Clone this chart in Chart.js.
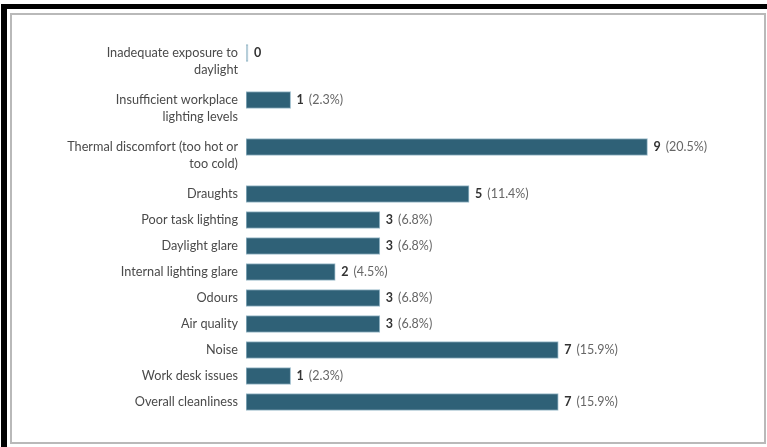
<!DOCTYPE html>
<html>
<head>
<meta charset="utf-8">
<script src="https://cdn.jsdelivr.net/npm/chart.js@4/dist/chart.umd.min.js"></script>
<style>
  html, body { margin: 0; padding: 0; background: #fff; }
  body { width: 767px; height: 447px; position: relative; overflow: hidden; }
  .edge-top { position: absolute; left: 1px; top: 4px; width: 766px; height: 5px; background: #000; }
  .edge-left { position: absolute; left: 1px; top: 4px; width: 6px; height: 443px; background: #000; }
  .frame { position: absolute; left: 10px; top: 13px; width: 756px; height: 431px; box-sizing: border-box; border: 2px solid #b9b9b9; }
  #chart { position: absolute; left: 0; top: 0; }
</style>
</head>
<body>
<div class="edge-top"></div>
<div class="edge-left"></div>
<div class="frame"></div>
<canvas id="chart" width="767" height="447"></canvas>
<script>
// survey answers: number of respondents per complaint
const categories = [
  ['Inadequate exposure to', 'daylight'],
  ['Insufficient workplace', 'lighting levels'],
  ['Thermal discomfort (too hot or', 'too cold)'],
  ['Draughts'],
  ['Poor task lighting'],
  ['Daylight glare'],
  ['Internal lighting glare'],
  ['Odours'],
  ['Air quality'],
  ['Noise'],
  ['Work desk issues'],
  ['Overall cleanliness']
];
const counts = [0, 1, 9, 5, 3, 3, 2, 3, 3, 7, 1, 7];
const percents = ['', '2.3%', '20.5%', '11.4%', '6.8%', '6.8%', '4.5%', '6.8%', '6.8%', '15.9%', '2.3%', '15.9%'];

// rows with a wrapped label get a taller slot
const SLOT = { 1: 26, 2: 47 };
const rowPos = [];
categories.forEach((lines, i) => {
  rowPos.push(i === 0 ? 0 : rowPos[i - 1] + SLOT[categories[i - 1].length]);
});

const BAR = '#2f6177';
const FONT = 'Lato, "Noto Sans", sans-serif';

const labelsPlugin = {
  id: 'rowLabels',
  afterDatasetsDraw(chart) {
    const ctx = chart.ctx;
    const meta = chart.getDatasetMeta(0);
    ctx.save();
    ctx.textBaseline = 'middle';
    meta.data.forEach((bar, i) => {
      // category text, right aligned before the bars
      ctx.font = '12.7px ' + FONT;
      ctx.fillStyle = '#4a4a4a';
      ctx.textAlign = 'right';
      categories[i].forEach((line, k) => {
        ctx.fillText(line, 238, bar.y + k * 17);
      });
      // value: bold count then the share in brackets
      ctx.textAlign = 'left';
      let x = bar.x + 6;
      ctx.font = 'bold 12.5px ' + FONT;
      ctx.fillStyle = '#333';
      ctx.fillText(String(counts[i]), x, bar.y);
      if (percents[i]) {
        x += ctx.measureText(String(counts[i])).width + 5;
        ctx.font = '12.5px ' + FONT;
        ctx.fillStyle = '#666';
        ctx.fillText('(' + percents[i] + ')', x, bar.y);
      }
    });
    ctx.restore();
  }
};

new Chart(document.getElementById('chart'), {
  type: 'bar',
  data: {
    datasets: [{
      data: counts.map((v, i) => ({ x: v, y: rowPos[i] })),
      backgroundColor: ctx => ctx.raw && ctx.raw.x === 0 ? '#a9c6d3' : BAR,
      borderColor: '#9dbccb',
      borderWidth: 1,
      borderSkipped: false,
      barThickness: 17,
      minBarLength: 2
    }]
  },
  options: {
    indexAxis: 'y',
    responsive: false,
    animation: false,
    layout: { padding: { left: 246, right: 8, top: 40, bottom: 20 } },
    scales: {
      x: { type: 'linear', min: 0, max: 11.5, display: false },
      y: { type: 'linear', reverse: true, offset: false, min: -13, max: 374, display: false }
    },
    plugins: { legend: { display: false }, tooltip: { enabled: false } }
  },
  plugins: [labelsPlugin]
});
</script>
</body>
</html>
